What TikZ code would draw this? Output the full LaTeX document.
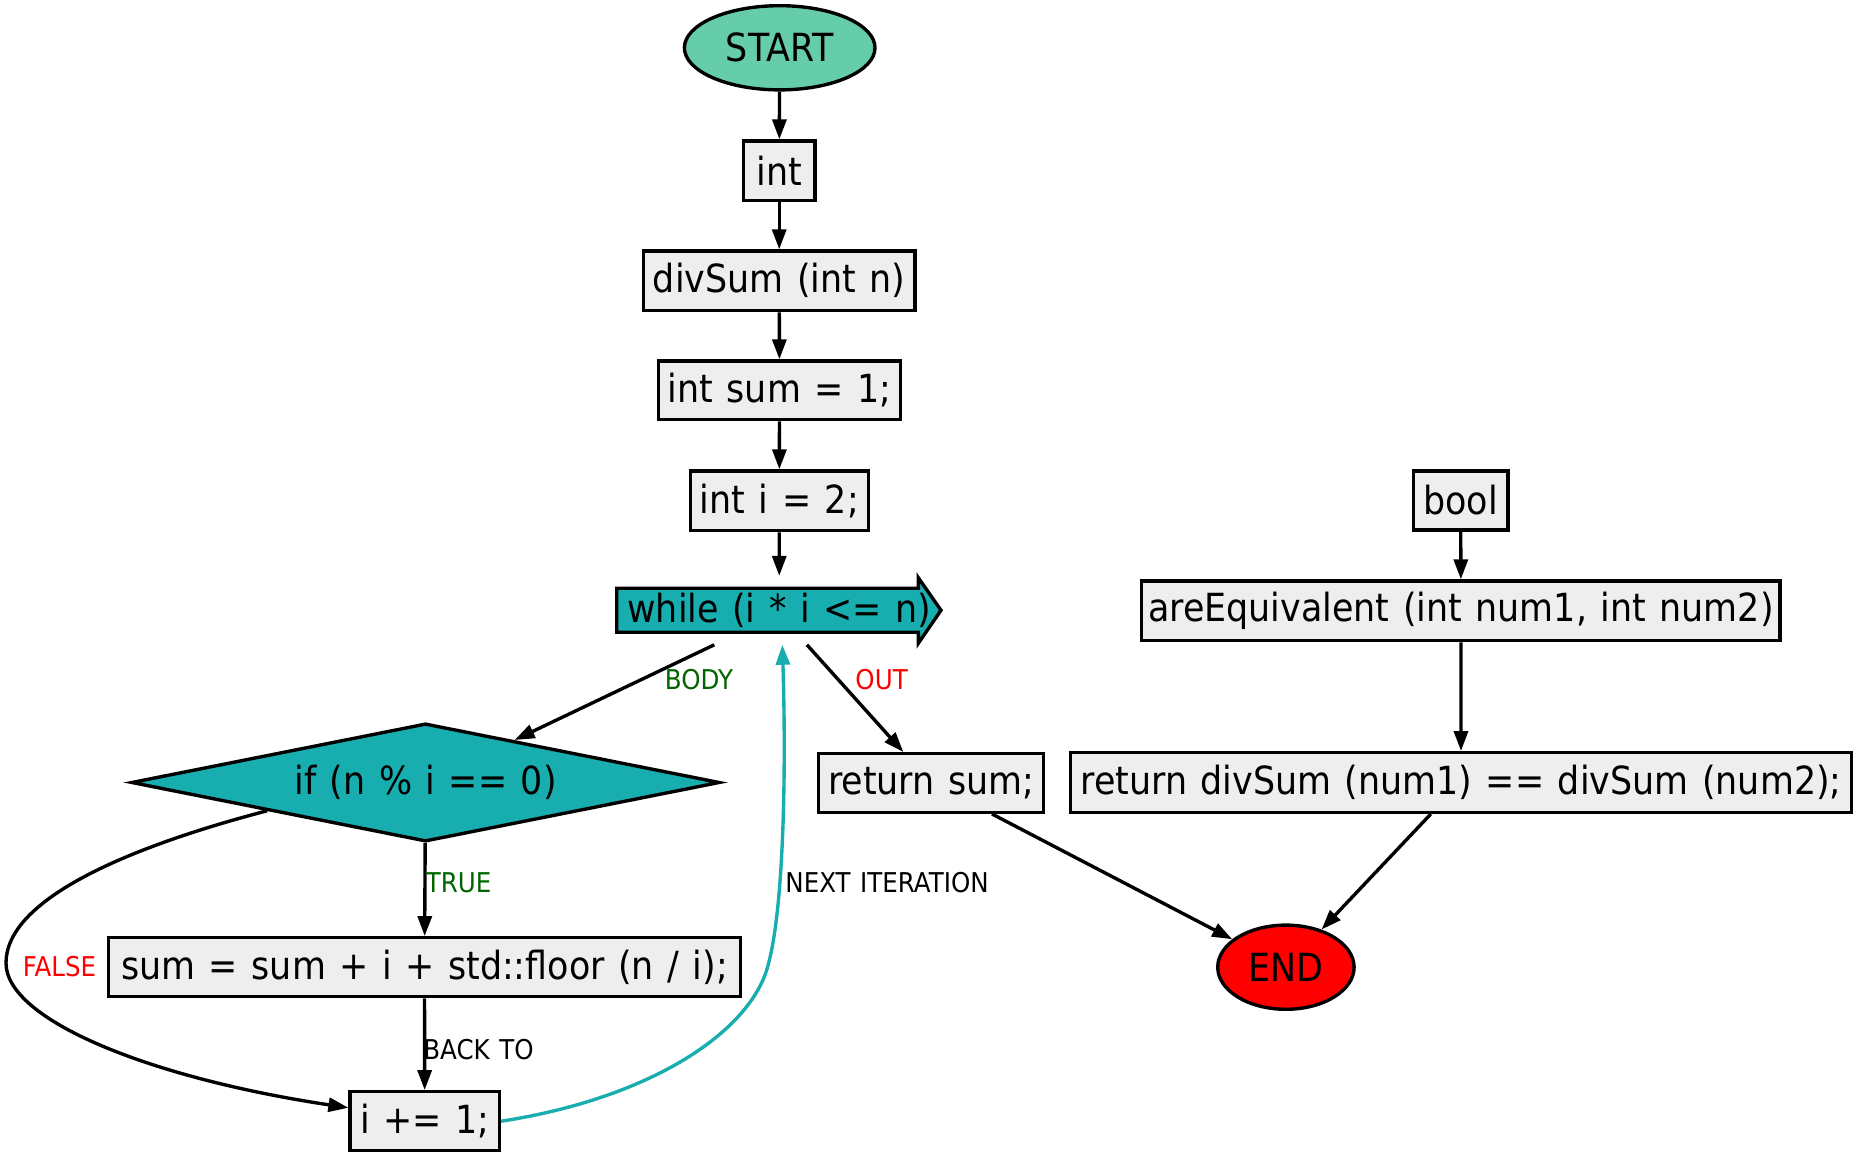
\documentclass[tikz,border=0pt]{standalone}
\usepackage{fontspec}
\setmainfont{DejaVu Sans}[FakeStretch=0.9,WordSpace=1.22]
\usetikzlibrary{shapes.geometric,arrows.meta,calc}
\definecolor{boxfill}{RGB}{238,238,238}
\definecolor{tealc}{RGB}{24,174,176}
\definecolor{startc}{RGB}{102,205,170}
\definecolor{lblgreen}{RGB}{0,100,0}
\newdimen\pxu \pxu=0.4pt
\begin{document}
\begin{tikzpicture}[x=0.4pt,y=-0.4pt,
  every node/.style={font=\fontsize{15.5}{18}\selectfont, inner sep=0pt, line width=1.35pt},
  sz/.style 2 args={minimum width=#1\pxu, minimum height=#2\pxu},
  box/.style={draw, fill=boxfill, rectangle},
  arr/.style={line width=1.35pt, -{Triangle[length=8pt,width=5.6pt]}},
  lbl/.style={font=\fontsize{10.9}{13}\selectfont},
]
\useasboundingbox (0,0) rectangle (1857,1157);

% nodes
\node[ellipse, draw, fill=startc, sz={190.6}{84.2}] (start) at (779.7,47.8) {START};
\node[box, sz={71.6}{59.3}] (int) at (779.2,170.7) {int};
\node[box, sz={271.6}{59.6}] (div) at (779.2,280.8) {divSum (int n)};
\node[box, sz={242.2}{58.6}] (isum) at (779.5,390.3) {int sum = 1;};
\node[box, sz={177.9}{59.6}] (ii) at (779.3,500.8) {int i = 2;};

\coordinate (whc) at (779.2,610.3);
\filldraw[fill=tealc, line width=1.35pt]
  ($(whc)+(-162.5,-22)$) -- ($(whc)+(139.1,-22)$) -- ($(whc)+(139.1,-32.6)$)
  -- ($(whc)+(161.8,0)$) -- ($(whc)+(139.1,33)$) -- ($(whc)+(139.1,22)$)
  -- ($(whc)+(-162.5,22)$) -- cycle;
\node[sz={324.9}{65.6}] (wh) at (whc) {while (i * i <= n)};

\node[box, sz={94.4}{59}] (bool) at (1460.7,500.5) {bool};
\node[box, sz={638.4}{59.6}] (areq) at (1460.9,610.8) {areEquivalent (int num1, int num2)};
\node[box, sz={780.6}{59.6}] (retd) at (1461,782.5) {return divSum (num1) == divSum (num2);};
\node[box, sz={225.1}{58.6}] (rets) at (931.2,783) {return sum;};
\node[diamond, draw, fill=tealc, aspect=4.87, sz={588.6}{118.2}] (if) at (425.5,782.5) {if (n \% i == 0)};
\node[box, sz={632.3}{58.9}] (sumb) at (424.5,967.2) {sum = sum + i + std::floor (n / i);};
\node[box, sz={149.3}{58.9}] (ip) at (424.7,1121.2) {i += 1;};
\node[ellipse, draw, fill=red, sz={136.4}{84.2}] (end) at (1285.9,967.2) {END};

% edges
\draw[arr] (start) -- (int);
\draw[arr] (int) -- (div);
\draw[arr] (div) -- (isum);
\draw[arr] (isum) -- (ii);
\draw[arr] (ii) -- (wh);
\draw[arr] (bool) -- (areq);
\draw[arr] (areq) -- (retd);
\draw[arr] ($(wh.south)+(-64.9,0)$) -- (if);
\draw[arr] ($(wh.south)+(27.7,0)$) -- (rets);
\draw[arr] (if) -- (sumb);
\draw[arr] (sumb) -- (ip);
\coordinate (fw) at (6,963);
\draw[arr] ($(if.west)!0.465!(if.south)$) .. controls (125,848) and (6,900) .. (fw)
  .. controls (6,1020) and (150,1078) .. (ip.170);
\coordinate (nw) at (765,975);
\draw[arr, draw=tealc] (ip.east) .. controls (640,1100) and (740,1040) .. (nw)
  .. controls (785,920) and (786,760) .. ($(wh.south)+(3.1,0)$);
\draw[arr] ($(rets.south)+(60.8,0)$) -- (end);
\draw[arr] ($(retd.south)+(-30.2,0)$) -- (end);

% labels
\node[lbl, text=lblgreen] (lbody) at (699,680) {BODY};
\node[lbl, text=red] (lout) at (881.6,680) {OUT};
\node[lbl, text=lblgreen] (ltrue) at (458.5,882.7) {TRUE};
\node[lbl] (lnext) at (887,883) {NEXT ITERATION};
\node[lbl, text=red] (lfalse) at (59.5,966.7) {FALSE};
\node[lbl] (lback) at (478.5,1050) {BACK TO};
\end{tikzpicture}
\end{document}
